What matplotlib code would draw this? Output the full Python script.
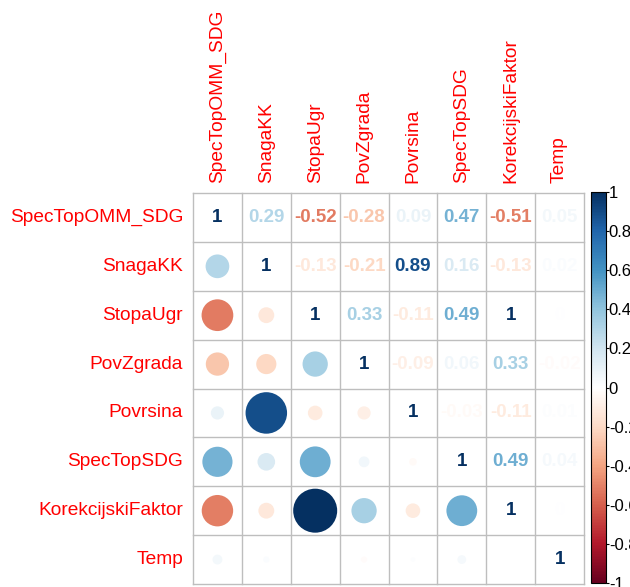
import numpy as np
import matplotlib
matplotlib.use("Agg")
import matplotlib.pyplot as plt
from matplotlib.colors import LinearSegmentedColormap, Normalize
from matplotlib.patches import Circle
import matplotlib.cm as cm

plt.rcParams['font.family'] = ['Liberation Sans', 'DejaVu Sans']

# variables and correlation values (upper triangle, read row by row)
variables = ['SpecTopOMM_SDG', 'SnagaKK', 'StopaUgr', 'PovZgrada',
             'Povrsina', 'SpecTopSDG', 'KorekcijskiFaktor', 'Temp']
row_spec = [1, 0.29, -0.52, -0.28, 0.09, 0.47, -0.51, 0.05]
row_snaga = [1, -0.13, -0.21, 0.89, 0.16, -0.13, 0.02]
row_stopa = [1, 0.33, -0.11, 0.49, 1.0, 0.0]
row_povz = [1, -0.09, 0.06, 0.33, -0.02]
row_povr = [1, -0.03, -0.11, 0.01]
row_sdg = [1, 0.49, 0.04]
row_korek = [1, 0.0]
row_temp = [1]
rows = [row_spec, row_snaga, row_stopa, row_povz, row_povr, row_sdg, row_korek, row_temp]
cbar_ticks = [-1, -0.8, -0.6, -0.4, -0.2, 0, 0.2, 0.4, 0.6, 0.8, 1]

n = len(variables)
corr = np.zeros((n, n))
for i, r in enumerate(rows):
    corr[i, i:] = r
    corr[i:, i] = r

# corrplot's default RdBu palette
cmap = LinearSegmentedColormap.from_list('corrplot', [
    "#67001F", "#B2182B", "#D6604D", "#F4A582", "#FDDBC7", "#FFFFFF",
    "#D1E5F0", "#92C5DE", "#4393C3", "#2166AC", "#053061"])
norm = Normalize(-1, 1)

W, H = 630, 587
fig = plt.figure(figsize=(W / 100, H / 100), dpi=100)
gx0, gy0, gsz = 193, 193, 391
ax = fig.add_axes([gx0 / W, (H - gy0 - gsz) / H, gsz / W, gsz / H])
ax.set_xlim(0, n)
ax.set_ylim(n, 0)
ax.set_aspect('equal')
ax.axis('off')


def fmt(v):
    s = f"{v:.2f}".rstrip('0').rstrip('.')
    return '0' if s in ('-0', '') else s


for i in range(n):
    for j in range(n):
        v = corr[i, j]
        col = cmap(norm(v))
        if j >= i:
            ax.text(j + 0.5, i + 0.5, fmt(v), ha='center', va='center',
                    fontsize=13.5, fontweight='bold', color=col)
        else:
            rad = 0.45 * np.sqrt(abs(v))
            if rad > 0:
                ax.add_patch(Circle((j + 0.5, i + 0.5), rad, facecolor=col,
                                    edgecolor='none'))

# grid
for k in range(n + 1):
    ax.plot([k, k], [0, n], color='#BEBEBE', lw=1, clip_on=False)
    ax.plot([0, n], [k, k], color='#BEBEBE', lw=1, clip_on=False)

# labels
for i, name in enumerate(variables):
    ax.text(-0.2, i + 0.5, name, ha='right', va='center', color='red',
            fontsize=13.8)
    ax.text(i + 0.5, -0.2, name, ha='center', va='bottom', color='red',
            fontsize=13.8, rotation=90)

# colorbar
cax = fig.add_axes([591 / W, (H - 583) / H, 15 / W, 391 / H])
sm = cm.ScalarMappable(norm=norm, cmap=cmap)
cb = fig.colorbar(sm, cax=cax, ticks=cbar_ticks)
cb.ax.set_yticklabels([fmt(t) for t in cbar_ticks])
cb.ax.tick_params(labelsize=12, length=2, width=0.8, pad=0)
cb.outline.set_linewidth(0.8)

fig.savefig('out.png', dpi=100)
